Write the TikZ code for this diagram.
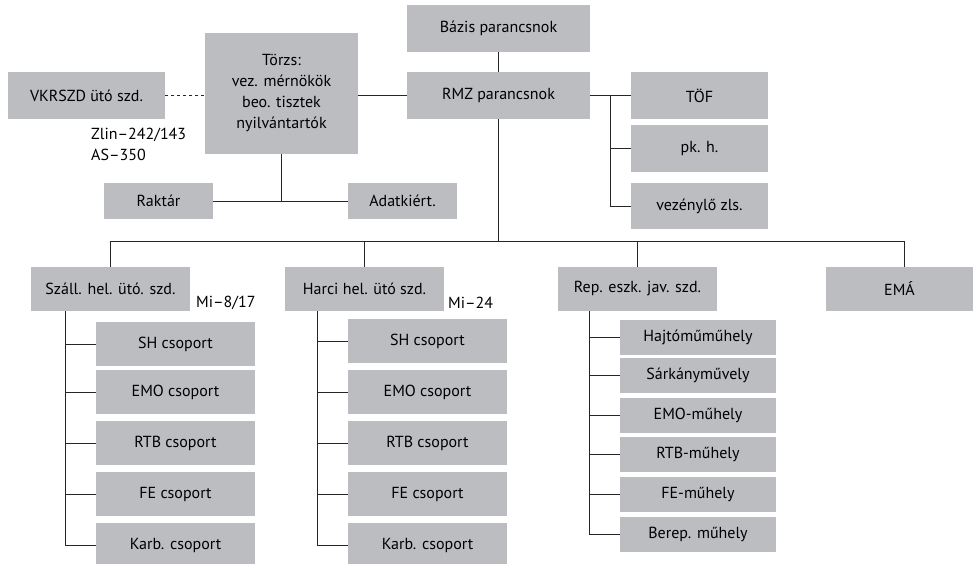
\documentclass[tikz,border=0pt]{standalone}
\usepackage{fontspec}
\setmainfont{PT Sans}
\usepackage{tikz}
\definecolor{unitgray}{RGB}{187,189,192}
\tikzset{%
  unit/.style   = {shape=rectangle, fill=unitgray, inner sep=0pt, align=center},%
  cmdbox/.style = {unit, minimum width=183pt, minimum height=47pt},%
  side/.style   = {unit, minimum width=137pt, minimum height=47pt},%
  squad/.style  = {unit, minimum width=159pt, minimum height=44pt},%
  group/.style  = {unit, minimum width=159pt, minimum height=44pt},%
  shop/.style   = {unit, minimum width=156pt, minimum height=35pt},%
  note/.style   = {inner sep=0pt, align=left},%
  link/.style   = {draw=black!85, line width=0.8pt}%
}

\begin{document}
\begin{tikzpicture}[x=1pt, y=-1pt, every node/.style = {font=\fontsize{16}{21}\selectfont}]
  \useasboundingbox (0,0) rectangle (974,564);
  % command and staff
  \node[cmdbox] (bazis) at (498.5,28.5) {Bázis parancsnok};
  \node[cmdbox] (rmz)   at (498.5,95.5) {RMZ parancsnok};
  \node[unit, minimum width=153pt, minimum height=121pt] (torzs) at (281.5,93.5)
       {\raisebox{-3pt}{\parbox{150pt}{\centering Törzs:\\vez. mérnökök\\beo. tisztek\\nyilvántartók}}};
  \node[unit, minimum width=157pt, minimum height=47pt] (vkrszd) at (86.5,95.5) {VKRSZD ütó szd.};
  \node[unit, minimum width=109pt, minimum height=36pt] (raktar) at (158.5,201) {Raktár};
  \node[unit, minimum width=109pt, minimum height=36pt] (adat)   at (402.5,201) {Adatkiért.};
  \node[note, anchor=west] (zlin) at (91,144) {Zlin–242/143\\AS–350};
  \node[side] (tof) at (699.5,95.5)  {TÖF};
  \node[side] (pkh) at (699.5,148.5) {pk. h.};
  \node[side, minimum height=46pt] (vez) at (699.5,206) {vezénylő zls.};
  % squadrons
  \node[squad] (szall) at (110.5,289) {Száll. hel. ütó. szd.};
  \node[squad] (harci) at (364.5,289) {Harci hel. ütó szd.};
  \node[squad] (rep)   at (637.5,289) {Rep. eszk. jav. szd.};
  \node[squad, minimum width=147pt] (ema) at (899.5,289) {EMÁ};
  \node[note, anchor=west] (mi8)  at (196,303) {Mi–8/17};
  \node[note, anchor=west] (mi24) at (448,303) {Mi–24};
  % groups and workshops
  \foreach \n/\t/\y in {a1/SH csoport/344, a2/EMO csoport/392, a3/RTB csoport/443,
                        a4/FE csoport/494, a5/Karb. csoport/545}
    \node[group] (\n) at (175.5,\y) {\t};
  \foreach \n/\t/\y in {b1/SH csoport/341, b2/EMO csoport/392, b3/RTB csoport/443,
                        b4/FE csoport/494, b5/Karb. csoport/545}
    \node[group] (\n) at (427.5,\y) {\t};
  \foreach \n/\t/\y in {c1/Hajtóműműhely/337, c2/Sárkányművely/375.5, c3/EMO-műhely/415.5,
                        c4/RTB-műhely/454.5, c5/FE-műhely/494.5, c6/Berep. műhely/534.5}
    \node[shop] (\n) at (698,\y) {\t};

  % connectors
  \draw[link] (bazis.south) -- (rmz.north);
  \draw[link] (torzs.east |- rmz.west) -- (rmz.west);
  \draw[link, dashed] (vkrszd.east) -- (vkrszd.east -| torzs.west);
  \draw[link] (torzs.south) -- (torzs.south |- raktar.east);
  \draw[link] (raktar.east) -- (adat.west);
  \draw[link] (rmz.east) -- (tof.west);
  \path (rmz.east) ++(20,0) coordinate (rt);
  \draw[link] (rt) |- (vez.west);
  \draw[link] (rt |- pkh.west) -- (pkh.west);
  \path (szall.north) ++(0,-25) coordinate (bus);
  \draw[link] (szall.north) -- (bus) -| ([xshift=5pt]ema.north);
  \draw[link] (rmz.south) -- (rmz.south |- bus);
  \foreach \n in {harci,rep}
    \draw[link] (\n.north) -- (\n.north |- bus);
  \path (szall.south west) ++(35,0) coordinate (ta);
  \path (harci.south west) ++(33,0) coordinate (tb);
  \path (rep.south west)   ++(32,0) coordinate (tc);
  \draw[link] (ta) |- (a5.west);
  \draw[link] (tb) |- (b5.west);
  \draw[link] (tc) |- (c6.west);
  \foreach \n in {a1,a2,a3,a4}
    \draw[link] (ta |- \n.west) -- (\n.west);
  \foreach \n in {b1,b2,b3,b4}
    \draw[link] (tb |- \n.west) -- (\n.west);
  \foreach \n in {c1,c2,c3,c4,c5}
    \draw[link] (tc |- \n.west) -- (\n.west);
\end{tikzpicture}
\end{document}
